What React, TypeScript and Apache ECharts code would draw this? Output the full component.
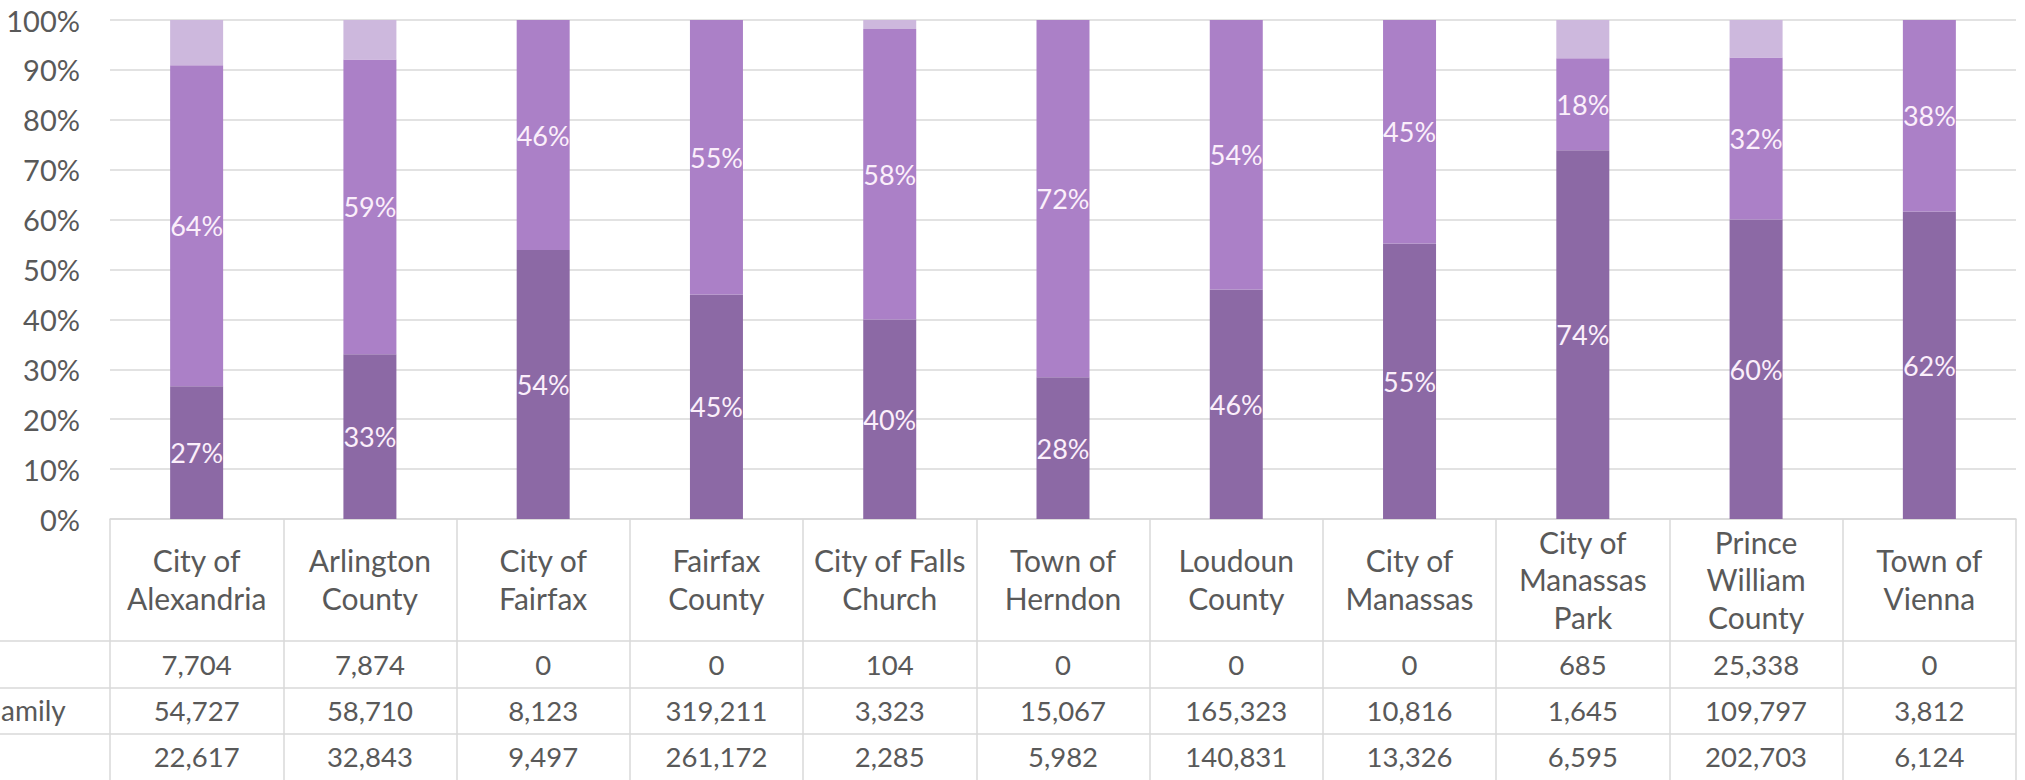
import React, { useEffect, useRef } from "react";
import * as echarts from "echarts";

// Categories (jurisdictions)
const categories = [
  "City of\nAlexandria",
  "Arlington\nCounty",
  "City of\nFairfax",
  "Fairfax\nCounty",
  "City of Falls\nChurch",
  "Town of\nHerndon",
  "Loudoun\nCounty",
  "City of\nManassas",
  "City of\nManassas\nPark",
  "Prince\nWilliam\nCounty",
  "Town of\nVienna",
];

// Data table rows (top segment, middle segment, bottom segment)
const rowTop = [7704, 7874, 0, 0, 104, 0, 0, 0, 685, 25338, 0];
const rowMiddle = [54727, 58710, 8123, 319211, 3323, 15067, 165323, 10816, 1645, 109797, 3812];
const rowBottom = [22617, 32843, 9497, 261172, 2285, 5982, 140831, 13326, 6595, 202703, 6124];

// Visible (cropped) row labels of the data table
const rowLabels = ["", "amily", ""];

// Y axis ticks
const yMin = 0;
const yMax = 100;
const yInterval = 10;

const totals = categories.map((_, i) => rowTop[i] + rowMiddle[i] + rowBottom[i]);
const pct = (row: number[]) => row.map((v, i) => (v / totals[i]) * 100);

const fmt = (v: number) => v.toLocaleString("en-US");

const FONT = "Lato, 'Open Sans', sans-serif";
const TEXT = "#595959";
const LINE = "#D9D9D9";

export default function App() {
  const ref = useRef<HTMLDivElement>(null);

  useEffect(() => {
    document.body.style.margin = "0";
    if (!ref.current) return;
    const chart = echarts.init(ref.current, undefined, { renderer: "svg" });

    const W = 2025;
    const gridLeft = 110;
    const gridRight = 9;
    const gridTop = 20;
    const axisY = 519;
    const gridBottom = 780 - axisY;
    const rowLines = [641, 688, 734];
    const rowCenters = [664, 710, 756];

    const rows = [rowTop, rowMiddle, rowBottom];

    const rowAxes = rows.map((row, r) => ({
      type: "category",
      gridIndex: 0,
      position: "bottom",
      data: categories,
      axisLine: { show: false },
      axisTick: { show: false },
      splitLine: { show: false },
      axisLabel: {
        interval: 0,
        margin: rowCenters[r] - axisY,
        verticalAlign: "middle",
        fontFamily: FONT,
        fontSize: 27.5,
        color: TEXT,
        formatter: (_v: string, idx: number) => fmt(row[idx]),
      },
    }));

    const labelStyle = {
      show: true,
      position: "inside",
      color: "#FBEFFB",
      fontFamily: FONT,
      fontSize: 27,
      formatter: (p: any) => Math.round(p.value) + "%",
    };

    chart.setOption({
      animation: false,
      backgroundColor: "#ffffff",
      grid: {
        left: gridLeft,
        right: gridRight,
        top: gridTop,
        bottom: gridBottom,
        containLabel: false,
      },
      xAxis: [
        {
          type: "category",
          gridIndex: 0,
          position: "bottom",
          data: categories,
          axisLine: { show: true, lineStyle: { color: LINE, width: 1.5 } },
          axisTick: {
            show: true,
            length: 780 - axisY,
            lineStyle: { color: LINE, width: 1.5 },
          },
          axisLabel: {
            interval: 0,
            margin: 60,
            verticalAlign: "middle",
            lineHeight: 37.5,
            fontFamily: FONT,
            fontSize: 30,
            color: TEXT,
          },
        },
        ...rowAxes,
      ],
      yAxis: {
        type: "value",
        min: yMin,
        max: yMax,
        interval: yInterval,
        axisLine: { show: false },
        axisTick: { show: false },
        splitLine: { show: true, lineStyle: { color: "#E2E2E2", width: 2 } },
        axisLabel: {
          margin: 30,
          fontFamily: FONT,
          fontSize: 29,
          color: TEXT,
          formatter: "{value}%",
        },
      },
      series: [
        {
          name: "Bottom",
          type: "bar",
          stack: "total",
          barWidth: 53,
          data: pct(rowBottom),
          itemStyle: { color: "#8C69A5" },
          label: labelStyle,
        },
        {
          name: "Middle",
          type: "bar",
          stack: "total",
          barWidth: 53,
          data: pct(rowMiddle),
          itemStyle: { color: "#AB80C7" },
          label: labelStyle,
        },
        {
          name: "Top",
          type: "bar",
          stack: "total",
          barWidth: 53,
          data: pct(rowTop),
          itemStyle: { color: "#CDB8DD" },
          label: { show: false },
        },
      ],
      graphic: [
        ...rowLines.map((y) => ({
          type: "line",
          shape: { x1: 0, y1: y, x2: W - gridRight, y2: y },
          style: { stroke: LINE, lineWidth: 1.5 },
          silent: true,
        })),
        ...rowLabels.map((t, r) => ({
          type: "text",
          x: 1,
          y: rowCenters[r],
          style: {
            text: t,
            fontFamily: FONT,
            fontSize: 28,
            fill: TEXT,
            verticalAlign: "middle",
            align: "left",
          },
          silent: true,
        })),
      ],
    });

    return () => chart.dispose();
  }, []);

  return <div ref={ref} style={{ width: 2025, height: 780 }} />;
}
